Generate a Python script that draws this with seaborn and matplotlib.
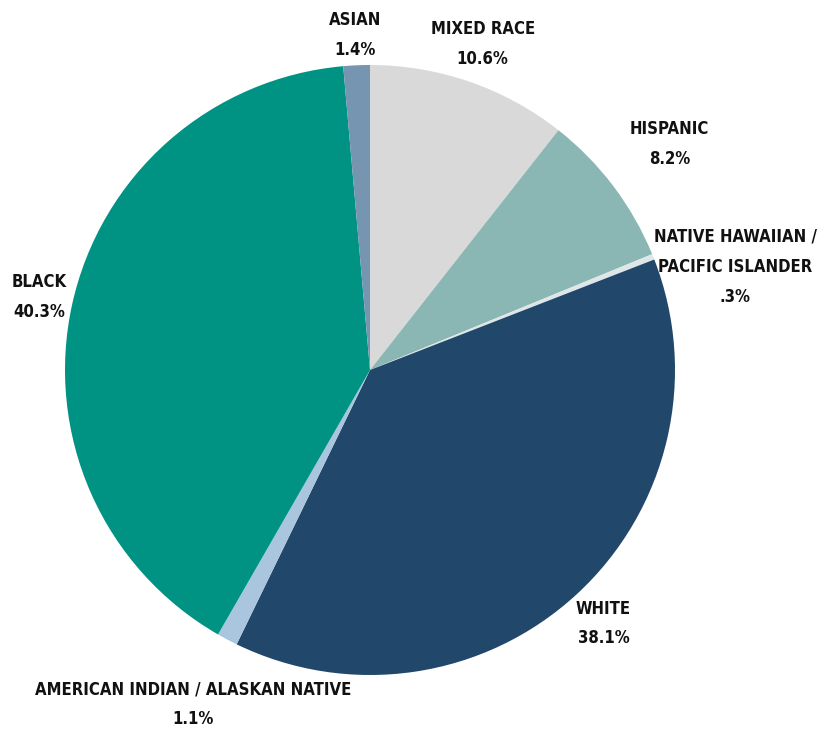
import numpy as np
import matplotlib.pyplot as plt
import seaborn as sns

groups = ['MIXED RACE', 'HISPANIC', 'NATIVE HAWAIIAN /\nPACIFIC ISLANDER', 'WHITE',
          'AMERICAN INDIAN / ALASKAN NATIVE', 'BLACK', 'ASIAN']
shares = [10.6, 8.2, 0.3, 38.1, 1.1, 40.3, 1.4]
share_labels = ['10.6%', '8.2%', '.3%', '38.1%', '1.1%', '40.3%', '1.4%']
colors = ['#d9d9d9', '#8ab7b3', '#dfe6e8', '#21476b', '#a9c6de', '#009384', '#7595b0']

# label placement: distance from centre (in radii) and angle nudge (deg)
label_dist = [1.13, 1.23, 1.245, 1.13, 1.24, 1.11, 1.1]
angle_nudge = [0, 0, -6, 0, 0, 0, 0]

sns.set_theme(style='white')
plt.rcParams['font.family'] = ['DejaVu Sans']

fig = plt.figure(figsize=(8.19, 7.31), dpi=100)
ax = fig.add_axes([0, 0, 1, 1])
wedges, _ = ax.pie(shares, colors=colors, startangle=90, counterclock=False,
                   wedgeprops=dict(linewidth=0))

for w, name, pct, d, nudge in zip(wedges, groups, share_labels, label_dist, angle_nudge):
    ang = np.deg2rad((w.theta1 + w.theta2) / 2 + nudge)
    ax.text(d * np.cos(ang), d * np.sin(ang), f'{name}\n{pct}', ha='center', va='center',
            fontsize=12, fontweight='bold', fontstretch='condensed',
            color='#111111', linespacing=1.85)

ax.set_xlim(-370 / 305, (819 - 370) / 305)
ax.set_ylim(-(731 - 370) / 305, 370 / 305)
ax.set_aspect('auto')
ax.axis('off')
fig.savefig('out.png', dpi=100, facecolor='white')
